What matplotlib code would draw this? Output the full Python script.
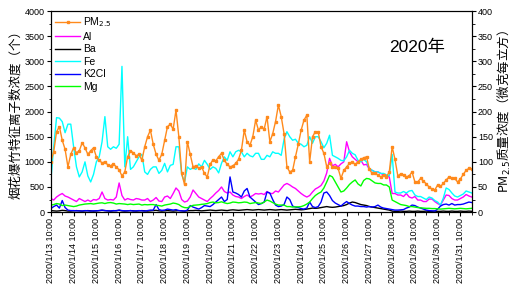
import pandas as pd
import matplotlib
matplotlib.use("Agg")
import matplotlib.pyplot as plt
from matplotlib.ticker import MultipleLocator

plt.rcParams['font.family'] = ['Liberation Sans', 'Noto Sans CJK SC', 'DejaVu Sans']
plt.rcParams['axes.unicode_minus'] = False

# -----------------------------
# Data (3-hourly, from 2020/1/13 10:00)
# -----------------------------
times = pd.date_range("2020-01-13 10:00", periods=149, freq="3h")

pm25 = [100, 120, 160, 170, 143, 125, 90, 115, 128, 118,
        122, 138, 128, 115, 122, 128, 110, 103, 98, 100,
        94, 92, 96, 90, 84, 72, 80, 110, 122, 118,
        112, 115, 103, 130, 150, 163, 135, 115, 103, 115,
        143, 170, 175, 165, 203, 150, 77, 55, 140, 115,
        90, 92, 87, 90, 77, 70, 95, 104, 102, 110,
        117, 103, 95, 90, 92, 97, 105, 123, 163, 140,
        133, 150, 183, 163, 170, 165, 190, 140, 156, 180,
        213, 190, 156, 90, 80, 83, 110, 135, 163, 183,
        193, 100, 150, 160, 160, 130, 117, 90, 97, 90,
        90, 87, 67, 83, 90, 97, 100, 95, 100, 105,
        108, 110, 85, 77, 77, 74, 70, 74, 70, 80,
        130, 105, 72, 76, 74, 70, 72, 80, 60, 60,
        67, 62, 56, 50, 46, 44, 54, 51, 57, 64,
        70, 68, 67, 60, 66, 75, 83, 87, 85]

al = [270, 240, 300, 340, 370, 320, 300, 270, 240, 210,
      270, 240, 210, 240, 210, 250, 240, 270, 400, 270,
      240, 250, 240, 300, 580, 330, 240, 270, 250, 240,
      270, 260, 240, 240, 270, 210, 240, 290, 220, 210,
      300, 320, 270, 370, 480, 420, 250, 200, 220, 300,
      440, 370, 300, 270, 240, 210, 270, 320, 380, 430,
      500, 410, 380, 400, 340, 310, 300, 270, 310, 340,
      300, 330, 370, 360, 370, 350, 410, 370, 370, 420,
      400, 470, 540, 570, 540, 500, 470, 420, 370, 330,
      300, 330, 400, 460, 490, 530, 620, 780, 1070, 920,
      950, 900, 960, 1000, 1400, 1200, 1100, 1050, 1000, 1030,
      940, 950, 850, 830, 800, 800, 770, 740, 720, 700,
      370, 370, 340, 340, 310, 370, 300, 280, 310, 240,
      240, 210, 210, 260, 260, 210, 170, 140, 240, 340,
      330, 270, 240, 240, 270, 300, 350, 320, 300]

ba = [30, 25, 20, 25, 35, 30, 20, 20, 25, 30,
      25, 20, 25, 30, 25, 20, 25, 30, 35, 30,
      25, 20, 25, 30, 35, 25, 20, 25, 30, 25,
      20, 25, 30, 25, 20, 25, 30, 35, 25, 20,
      25, 30, 25, 20, 25, 30, 25, 20, 25, 30,
      30, 35, 30, 25, 30, 35, 40, 35, 30, 35,
      40, 35, 30, 40, 45, 40, 35, 40, 45, 50,
      45, 40, 45, 50, 45, 40, 45, 50, 45, 40,
      45, 50, 45, 40, 45, 50, 55, 50, 45, 50,
      60, 70, 80, 75, 80, 90, 100, 110, 100, 95,
      100, 110, 120, 130, 150, 180, 200, 190, 170, 150,
      140, 130, 110, 100, 90, 80, 70, 60, 50, 40,
      20, 15, 15, 20, 15, 15, 20, 15, 15, 20,
      15, 15, 20, 15, 15, 20, 15, 15, 20, 15,
      15, 20, 15, 15, 20, 15, 15, 20, 15]

fe = [640, 1300, 1880, 1870, 1800, 1580, 1750, 1750, 1300, 900,
      700, 800, 1000, 720, 600, 750, 1000, 1100, 1400, 1900,
      1300, 1250, 1300, 1270, 1350, 2900, 900, 1500, 850, 900,
      1000, 1100, 1150, 800, 750, 850, 900, 900, 770, 830,
      970, 800, 930, 950, 1300, 1300, 750, 600, 900, 850,
      880, 850, 960, 900, 1030, 950, 850, 900, 870, 780,
      970, 1100, 1030, 1200, 1100, 1200, 1230, 1200, 1100, 1170,
      1120, 1100, 1170, 1170, 1050, 1050, 1130, 1100, 1200, 1170,
      1170, 1130, 1450, 1600, 1500, 1430, 1450, 1370, 1350, 1300,
      1330, 1500, 1370, 1500, 1500, 1400, 1280, 1370, 1530, 1130,
      1100, 1070, 1030, 1020, 1100, 1230, 1170, 1140, 1030, 1000,
      1050, 1000, 870, 830, 800, 800, 770, 770, 740, 720,
      1150, 400, 380, 380, 410, 380, 420, 430, 340, 310,
      310, 280, 250, 300, 280, 230, 200, 140, 280, 480,
      450, 380, 320, 300, 330, 360, 420, 400, 380]

k2cl = [70, 110, 140, 80, 230, 90, 40, 30, 30, 25,
        25, 20, 30, 25, 20, 25, 25, 30, 40, 30,
        25, 20, 30, 25, 40, 30, 25, 25, 30, 20,
        25, 30, 25, 20, 30, 40, 40, 150, 50, 35,
        40, 60, 50, 40, 50, 30, 25, 20, 40, 130,
        100, 80, 60, 90, 130, 120, 110, 150, 200, 250,
        300, 210, 250, 700, 400, 380, 350, 300, 420, 470,
        300, 250, 200, 150, 170, 200, 400, 380, 250, 140,
        110, 120, 150, 300, 250, 120, 100, 90, 70, 60,
        80, 200, 110, 90, 110, 200, 380, 400, 330, 230,
        180, 150, 120, 170, 210, 170, 140, 120, 120, 110,
        110, 100, 110, 100, 110, 140, 100, 80, 70, 60,
        50, 40, 40, 45, 50, 80, 100, 140, 130, 100,
        80, 60, 40, 30, 25, 20, 60, 120, 150, 160,
        140, 170, 140, 150, 150, 160, 180, 200, 190]

mg = [140, 150, 170, 160, 130, 140, 130, 120, 110, 120,
      140, 150, 160, 165, 170, 160, 170, 180, 185, 170,
      185, 190, 180, 160, 170, 165, 160, 150, 160, 150,
      155, 160, 140, 150, 145, 150, 150, 135, 130, 120,
      140, 150, 160, 180, 170, 150, 110, 90, 85, 110,
      135, 140, 145, 155, 160, 170, 190, 200, 185, 190,
      205, 185, 170, 180, 200, 195, 185, 190, 200, 195,
      170, 180, 190, 180, 170, 200, 240, 220, 190, 160,
      140, 140, 140, 110, 110, 100, 105, 105, 110, 130,
      160, 200, 270, 330, 370, 400, 480, 600, 730, 700,
      600, 500, 400, 420, 480, 550, 600, 640, 560, 520,
      630, 670, 660, 620, 580, 570, 570, 540, 540, 500,
      240, 210, 180, 150, 140, 130, 110, 110, 100, 90,
      85, 80, 75, 75, 70, 70, 65, 60, 65, 70,
      75, 70, 65, 70, 75, 70, 65, 70, 75]

tick_days = pd.date_range("2020-01-13 10:00", "2020-01-31 10:00", freq="D")
tick_labels = [f"{d.year}/{d.month}/{d.day} 10:00" for d in tick_days]

# -----------------------------
# Plot
# -----------------------------
fig = plt.figure(figsize=(5.19, 3.0), dpi=100)
ax = fig.add_axes([0.098, 0.293, 0.811, 0.670])
ax2 = ax.twinx()

ax.plot(times, al, color='#FF00FF', lw=1.0, label='Al')
ax.plot(times, ba, color='black', lw=1.0, label='Ba')
ax.plot(times, fe, color='#00FFFF', lw=1.0, label='Fe')
ax.plot(times, k2cl, color='#0000FF', lw=1.0, label='K2Cl')
ax.plot(times, mg, color='#00FF00', lw=1.0, label='Mg')
ax2.plot(times, pm25, color='#FF8A1C', lw=1.0, marker='s', ms=1.7,
         mec='#FF8A1C', label='PM$_{2.5}$')

ax.set_xlim(times[0], times[-1])
ax.set_ylim(0, 4000)
ax2.set_ylim(0, 400)

ax.yaxis.set_major_locator(MultipleLocator(500))
ax.yaxis.set_minor_locator(MultipleLocator(250))
ax2.yaxis.set_major_locator(MultipleLocator(50))
ax2.yaxis.set_minor_locator(MultipleLocator(25))

ax.set_xticks(tick_days)
ax.set_xticklabels(tick_labels, rotation=90, fontsize=6.5)
minor_days = pd.date_range("2020-01-13 22:00", "2020-01-31 22:00", freq="D")
ax.set_xticks(minor_days, minor=True)

for a in (ax, ax2):
    a.tick_params(axis='both', which='major', direction='out', length=3, width=0.8, labelsize=6.5, pad=1.5)
    a.tick_params(axis='both', which='minor', direction='out', length=1.8, width=0.6)

ax.set_ylabel("烟花爆竹特征离子数浓度（个）", fontsize=9, labelpad=2)
# non-math part of a mathtext string uses the text's own font, so use the CJK family here
ax2.set_ylabel("PM$_{2.5}$质量浓度（微克每立方）", fontsize=9, labelpad=2,
               fontfamily='Noto Sans CJK SC')

ax.text(0.87, 0.82, "2020年", transform=ax.transAxes, fontsize=12.5,
        ha='center', va='center')

h1, l1 = ax2.get_legend_handles_labels()
h0, l0 = ax.get_legend_handles_labels()
ax2.legend(h1 + h0, l1 + l0, loc='upper left', frameon=False, fontsize=7.5,
           handlelength=2.4, handletextpad=0.3, labelspacing=0.25,
           borderaxespad=0.2, borderpad=0.2)

fig.savefig("out.png", dpi=100)
